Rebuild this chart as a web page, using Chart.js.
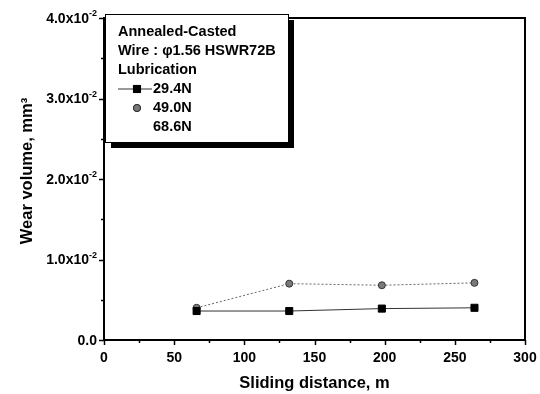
<!DOCTYPE html>
<html>
<head>
<meta charset="utf-8">
<script src="https://cdn.jsdelivr.net/npm/chart.js@4/dist/chart.umd.min.js"></script>
<style>
  html, body { margin: 0; padding: 0; background: #fff; }
  #wrap { width: 540px; height: 394px; }
</style>
</head>
<body>
<div id="wrap"><canvas id="wearChart" width="540" height="394"></canvas></div>
<script>
// Values
const distances = [66, 132, 198, 264];
const wear294 = [0.0036, 0.0036, 0.0039, 0.0040];
const wear490 = [0.0040, 0.0070, 0.0068, 0.0071];
const wear686 = [];
const xTicks = [0, 50, 100, 150, 200, 250, 300];
const yTicks = [0, 0.01, 0.02, 0.03, 0.04];
const yTickLabels = [['0.0', ''], ['1.0x10', '-2'], ['2.0x10', '-2'], ['3.0x10', '-2'], ['4.0x10', '-2']];
const legendTitle = ['Annealed-Casted', 'Wire : \u03c61.56 HSWR72B', 'Lubrication'];
const seriesNames = ['29.4N', '49.0N', '68.6N'];

const FONT = '"Liberation Sans", Arial, Helvetica, sans-serif';

function toPoints(xs, ys) {
    return ys.map((y, i) => ({ x: xs[i], y: y }));
}

// Draws the frame, ticks, labels, titles and the boxed legend
const decorations = {
    id: 'decorations',
    afterDraw(chart) {
        const ctx = chart.ctx;
        const area = chart.chartArea;
        const xs = chart.scales.x;
        const ys = chart.scales.y;
        ctx.save();

        // frame
        ctx.strokeStyle = '#000';
        ctx.lineWidth = 2;
        ctx.strokeRect(area.left, area.top, area.right - area.left, area.bottom - area.top);

        // x ticks
        ctx.lineWidth = 1.5;
        for (let v = 0; v <= 300; v += 25) {
            const px = Math.round(xs.getPixelForValue(v)) + 0.5;
            const len = v % 50 === 0 ? 5 : 3;
            ctx.beginPath();
            ctx.moveTo(px, area.bottom);
            ctx.lineTo(px, area.bottom + len);
            ctx.stroke();
        }
        // y ticks
        for (let v = 0; v <= 0.04 + 1e-9; v += 0.005) {
            const py = Math.round(ys.getPixelForValue(v)) + 0.5;
            const major = Math.abs(v / 0.01 - Math.round(v / 0.01)) < 1e-6;
            ctx.beginPath();
            ctx.moveTo(area.left, py);
            ctx.lineTo(area.left - (major ? 5 : 3), py);
            ctx.stroke();
        }

        // x tick labels
        ctx.fillStyle = '#000';
        ctx.font = 'bold 14px ' + FONT;
        ctx.textAlign = 'center';
        ctx.textBaseline = 'middle';
        xTicks.forEach(v => {
            ctx.fillText(String(v), xs.getPixelForValue(v), 358);
        });

        // y tick labels with superscript exponent
        yTicks.forEach((v, i) => {
            const py = ys.getPixelForValue(v);
            const main = yTickLabels[i][0];
            const sup = yTickLabels[i][1];
            ctx.font = 'bold 9px ' + FONT;
            const supW = sup ? ctx.measureText(sup).width : 0;
            const right = 97;
            ctx.textAlign = 'right';
            if (sup) {
                ctx.textBaseline = 'alphabetic';
                ctx.fillText(sup, right, py - 2);
            }
            ctx.font = 'bold 14px ' + FONT;
            ctx.textBaseline = 'middle';
            ctx.fillText(main, right - supW, py + 1);
        });

        // axis titles
        ctx.font = 'bold 16.5px ' + FONT;
        ctx.textAlign = 'center';
        ctx.textBaseline = 'middle';
        ctx.fillText('Sliding distance, m', (area.left + area.right) / 2, 383);

        ctx.save();
        ctx.translate(27, 171);
        ctx.rotate(-Math.PI / 2);
        ctx.fillText('Wear volume, mm\u00b3', 0, 0);
        ctx.restore();

        // legend box with heavy shadow
        const bx = 105, by = 14, bw = 183, bh = 128;
        ctx.fillStyle = '#000';
        ctx.fillRect(bx + 6, by + 6, bw, bh);
        ctx.fillStyle = '#fff';
        ctx.fillRect(bx, by, bw, bh);
        ctx.lineWidth = 1;
        ctx.strokeStyle = '#000';
        ctx.strokeRect(bx + 0.5, by + 0.5, bw, bh);

        ctx.fillStyle = '#000';
        ctx.font = 'bold 14.5px ' + FONT;
        ctx.textAlign = 'left';
        ctx.textBaseline = 'middle';
        legendTitle.forEach((t, i) => ctx.fillText(t, 118, 32 + i * 19));

        const rows = [89, 108, 127];
        seriesNames.forEach((name, i) => {
            const y = rows[i];
            const ds = chart.data.datasets[i];
            if (ds && ds.data.length) {
                if (ds.showLegendLine) {
                    ctx.strokeStyle = ds.borderColor;
                    ctx.lineWidth = ds.borderWidth;
                    ctx.setLineDash(ds.borderDash || []);
                    ctx.beginPath();
                    ctx.moveTo(118, y);
                    ctx.lineTo(152, y);
                    ctx.stroke();
                    ctx.setLineDash([]);
                }
                Chart.helpers.drawPoint(ctx, {
                    pointStyle: ds.pointStyle,
                    radius: ds.pointRadius,
                    borderWidth: ds.pointBorderWidth || 1,
                    rotation: 0
                }, 137, y);
                ctx.fillStyle = ds.pointBackgroundColor;
                ctx.strokeStyle = ds.pointBorderColor;
                ctx.fill();
                ctx.stroke();
            }
            ctx.fillStyle = '#000';
            ctx.fillText(name, 153, y);
        });

        ctx.restore();
    }
};

new Chart(document.getElementById('wearChart'), {
    type: 'scatter',
    data: {
        datasets: [
            {
                label: seriesNames[0],
                data: toPoints(distances, wear294),
                showLine: true,
                showLegendLine: true,
                borderColor: '#333',
                borderWidth: 1,
                pointStyle: 'rect',
                pointRadius: 5,
                pointBackgroundColor: '#000',
                pointBorderColor: '#000',
                pointBorderWidth: 1
            },
            {
                label: seriesNames[1],
                data: toPoints(distances, wear490),
                showLine: true,
                showLegendLine: false,
                borderColor: '#666',
                borderWidth: 1,
                borderDash: [2, 2],
                pointStyle: 'circle',
                pointRadius: 3.5,
                pointBackgroundColor: '#7a7a7a',
                pointBorderColor: '#333',
                pointBorderWidth: 1
            },
            {
                label: seriesNames[2],
                data: toPoints(distances, wear686),
                showLine: true,
                borderColor: '#000',
                pointRadius: 3
            }
        ]
    },
    plugins: [decorations],
    options: {
        responsive: false,
        animation: false,
        layout: { padding: { top: 18, right: 15, left: 0, bottom: 0 } },
        plugins: {
            legend: { display: false },
            tooltip: { enabled: false }
        },
        scales: {
            x: {
                type: 'linear',
                min: 0,
                max: 300,
                ticks: { display: false },
                grid: { display: false },
                border: { display: false },
                afterFit(scale) { scale.height = 54; }
            },
            y: {
                type: 'linear',
                min: 0,
                max: 0.04,
                ticks: { display: false },
                grid: { display: false },
                border: { display: false },
                afterFit(scale) { scale.width = 104; }
            }
        }
    }
});
</script>
</body>
</html>
